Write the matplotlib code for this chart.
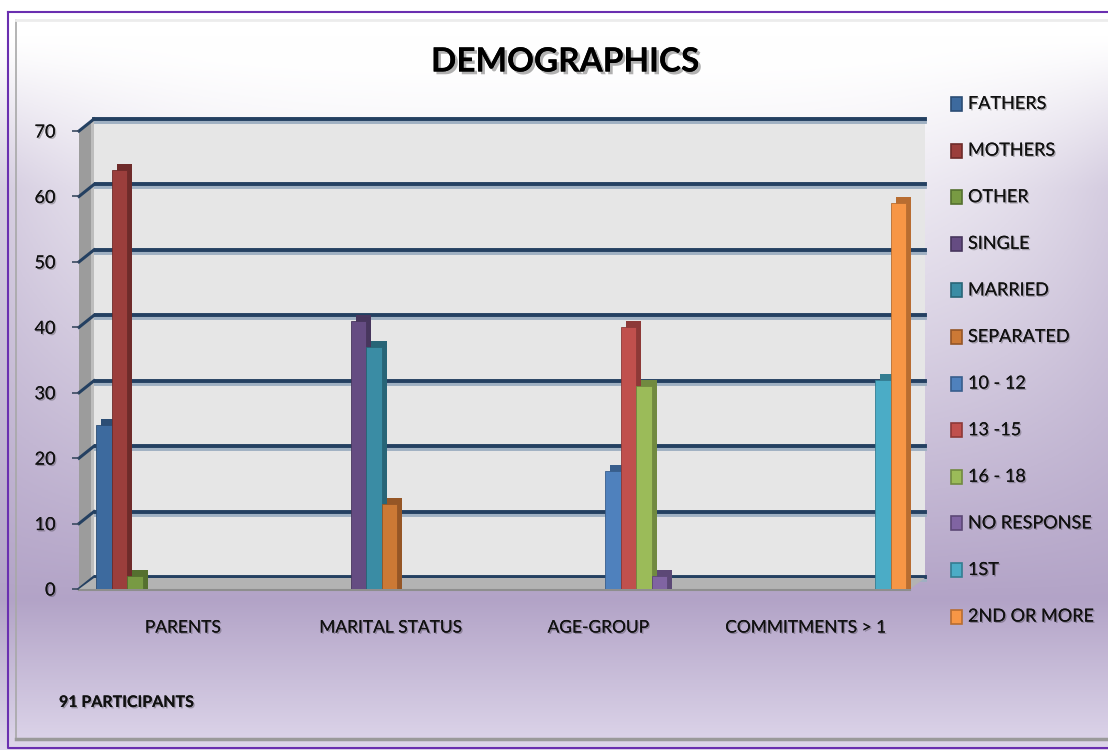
import numpy as np
import matplotlib
matplotlib.use("Agg")
import matplotlib.pyplot as plt
from matplotlib import transforms
from matplotlib.patches import Polygon, Rectangle
from matplotlib.lines import Line2D
import matplotlib.patheffects as pe

# ---------------- data ----------------
categories = ["PARENTS", "MARITAL STATUS", "AGE-GROUP", "COMMITMENTS > 1"]
series_names = ["FATHERS", "MOTHERS", "OTHER", "SINGLE", "MARRIED", "SEPARATED",
                "10 - 12", "13 -15", "16 - 18", "NO RESPONSE", "1ST", "2ND OR MORE"]
fathers     = [25, 0, 0, 0]
mothers     = [64, 0, 0, 0]
other       = [2, 0, 0, 0]
single      = [0, 41, 0, 0]
married     = [0, 37, 0, 0]
separated   = [0, 13, 0, 0]
age_10_12   = [0, 0, 18, 0]
age_13_15   = [0, 0, 40, 0]
age_16_18   = [0, 0, 31, 0]
no_response = [0, 0, 2, 0]
first       = [0, 0, 0, 32]
second_more = [0, 0, 0, 59]
series_values = [fathers, mothers, other, single, married, separated,
                 age_10_12, age_13_15, age_16_18, no_response, first, second_more]
y_ticks = [0, 10, 20, 30, 40, 50, 60, 70]
title = "DEMOGRAPHICS"
note = "91 PARTICIPANTS"

colors = ["#3d6a9e", "#9b3e3c", "#789a43", "#654c82", "#3a8ca4", "#cc7935",
          "#4f81bd", "#c0504d", "#9bbb59", "#8064a2", "#4bacc6", "#f79646"]
dark = ["#2c4d74", "#6e2b2a", "#55702f", "#47365d", "#286577", "#955626",
        "#385e8c", "#8d3937", "#718a40", "#5c4876", "#347d91", "#b86d31"]

W, H = 1108, 750
fig = plt.figure(figsize=(W / 100, H / 100), dpi=100)

def fx(px):
    return px / W

def fy(py):
    return 1 - py / H

# ---------------- background gradient ----------------
bg = fig.add_axes([0, 0, 1, 1], zorder=-10)
yy = np.linspace(0, 1, 300)[:, None]
xx = np.linspace(0, 1, 300)[None, :]
top = np.array([1.0, 1.0, 1.0])
mid = np.array([0.70, 0.64, 0.78])
bot = np.array([0.87, 0.84, 0.92])
tv = np.clip((yy - 0.08) / 0.72, 0, 1) ** 1.2
tb = np.clip((yy - 0.80) / 0.20, 0, 1)
edge = 0.45 * (np.abs(xx - 0.5) * 2) ** 4 * np.clip((yy - 0.05) / 0.2, 0, 1)
t = np.clip(tv + edge * (1 - tv), 0, 1)
img = top[None, None, :] * (1 - t[..., None]) + mid[None, None, :] * t[..., None]
img = img * (1 - tb[..., None]) + bot[None, None, :] * tb[..., None]
bg.imshow(img, extent=[0, 1, 0, 1], aspect="auto", origin="upper")
bg.set_xlim(0, 1)
bg.set_ylim(0, 1)
bg.axis("off")

# border lines
bg.add_line(Line2D([fx(8), fx(8), fx(1112)], [fy(12), fy(748), fy(748)], color="#6a2fb0", lw=1.5))
bg.add_line(Line2D([fx(8), fx(1112)], [fy(12), fy(12)], color="#6a2fb0", lw=1.5))
bg.add_line(Line2D([fx(16), fx(16)], [fy(20), fy(739)], color="#a8a8a8", lw=1.2))
bg.add_line(Line2D([fx(16), fx(1112)], [fy(739), fy(739)], color="#9a9a9a", lw=2.5))
bg.add_line(Line2D([fx(16), fx(1112)], [fy(20), fy(20)], color="#ececec", lw=2))

# ---------------- geometry ----------------
fl, fr, f0, f70 = 79, 910, 589, 131      # front plane pixel box
dx, dy = 15, 12                          # depth offset in pixels

back = fig.add_axes([fx(fl + dx), fy(f0 - dy), fx(fr - fl), (f0 - f70) / H], zorder=-3)
back.set_facecolor("#e6e6e6")
back.set_xlim(-0.5, 3.5)
back.set_ylim(0, 70)
for s in back.spines.values():
    s.set_visible(False)
back.set_xticks([])
back.set_yticks([])
for v in y_ticks:
    back.axhline(v, color="#244061", lw=2.8, clip_on=False,
                 path_effects=[pe.SimpleLineShadow(offset=(0, -2.2), shadow_color="#9fb0c2", alpha=1.0),
                               pe.Normal()])

ax = fig.add_axes([fx(fl), fy(f0), fx(fr - fl), (f0 - f70) / H], zorder=1)
ax.patch.set_alpha(0)
ax.set_xlim(-0.5, 3.5)
ax.set_ylim(0, 70)
for s in ax.spines.values():
    s.set_visible(False)

# left wall and floor (figure pixel coords)
wall = Polygon([[fx(fl), fy(f0)], [fx(fl + dx), fy(f0 - dy)], [fx(fl + dx), fy(f70 - dy)],
                [fx(fl), fy(f70)]], closed=True, transform=fig.transFigure,
               facecolor="#9c9c9c", edgecolor="none", zorder=-2)
fig.add_artist(wall)
wall_hi = Polygon([[fx(fl + dx - 3), fy(f0 - dy + 3)], [fx(fl + dx), fy(f0 - dy)],
                   [fx(fl + dx), fy(f70 - dy)], [fx(fl + dx - 3), fy(f70 - dy + 3)]],
                  closed=True, transform=fig.transFigure,
                  facecolor="#bdbdbd", edgecolor="none", zorder=-2)
fig.add_artist(wall_hi)
floor = Polygon([[fx(fl), fy(f0)], [fx(fr), fy(f0)], [fx(fr + dx), fy(f0 - dy + 1)],
                 [fx(fl + dx), fy(f0 - dy + 1)]], closed=True, transform=fig.transFigure,
                facecolor="#b3b3b3", edgecolor="none", zorder=-1)
fig.add_artist(floor)
fig.add_artist(Line2D([fx(fl), fx(fr)], [fy(f0 + 1), fy(f0 + 1)], color="#8e8e8e", lw=1.5,
                      transform=fig.transFigure, zorder=-1))

# slanted grid lines on the side wall
for v in y_ticks:
    yf = f0 - (f0 - f70) * v / 70
    fig.add_artist(Line2D([fx(fl), fx(fl + dx)], [fy(yf), fy(yf - dy)], color="#244061", lw=2.2,
                          transform=fig.transFigure, zorder=-1.5))

# ---------------- bars ----------------
n = len(series_names)
slot = 0.075
start = 0.082
off_x, off_y = 5, 6
units_per_px = 70 / (f0 - f70)
depth_tr = transforms.offset_copy(ax.transData, fig=fig, x=off_x, y=off_y, units="dots")
cats = np.arange(len(categories))
for j, (name, vals) in enumerate(zip(series_names, series_values)):
    xpos = cats - 0.5 + start + slot * (j + 0.5)
    vals = np.asarray(vals, dtype=float)
    base = -off_y * units_per_px
    sh = ax.bar(xpos, np.where(vals > 0, vals - base, 0), bottom=base, width=slot,
                color=dark[j], linewidth=0, zorder=2)
    for p in sh.patches:
        p.set_transform(depth_tr)
        p.set_clip_on(False)
    ax.bar(xpos, vals, width=slot, color=colors[j], edgecolor=dark[j], linewidth=0.6,
           zorder=3, label=name)

# ---------------- axes text ----------------
shadow = [pe.withSimplePatchShadow(offset=(1, -1), shadow_rgbFace="#000000", alpha=0.25), pe.Normal()]
ax.set_yticks(y_ticks)
ax.set_yticklabels([str(v) for v in y_ticks], fontsize=13, fontfamily="Lato", color="#111111")
ax.tick_params(axis="y", length=5, width=1.2, color="#3a4a60", pad=12)
ax.set_xticks(cats)
ax.set_xticklabels(categories, fontsize=12.5, fontfamily="Lato", color="#111111")
ax.tick_params(axis="x", length=0, pad=22)
for lab in ax.get_yticklabels() + ax.get_xticklabels():
    lab.set_path_effects(shadow)

fig.text(fx(565), fy(62), title, fontsize=24, fontweight="bold", fontfamily="Lato",
         ha="center", va="center", color="#000000",
         path_effects=[pe.withSimplePatchShadow(offset=(2, -2), shadow_rgbFace="#000000", alpha=0.3),
                       pe.Normal()])
fig.text(fx(59), fy(703), note, fontsize=11.5, fontweight="bold", fontfamily="Lato",
         ha="left", va="center", color="#111111", path_effects=shadow)

# ---------------- legend ----------------
for j, name in enumerate(series_names):
    yc = 104 + 46.6 * j
    fig.add_artist(Rectangle((fx(951), fy(yc + 7)), fx(11), 14 / H, transform=fig.transFigure,
                             facecolor=colors[j], edgecolor=dark[j], lw=1.2, zorder=5))
    fig.text(fx(968), fy(yc), name, fontsize=13, fontfamily="Lato", ha="left", va="center",
             color="#111111", path_effects=shadow, zorder=5)

fig.savefig("out.png", dpi=100)
